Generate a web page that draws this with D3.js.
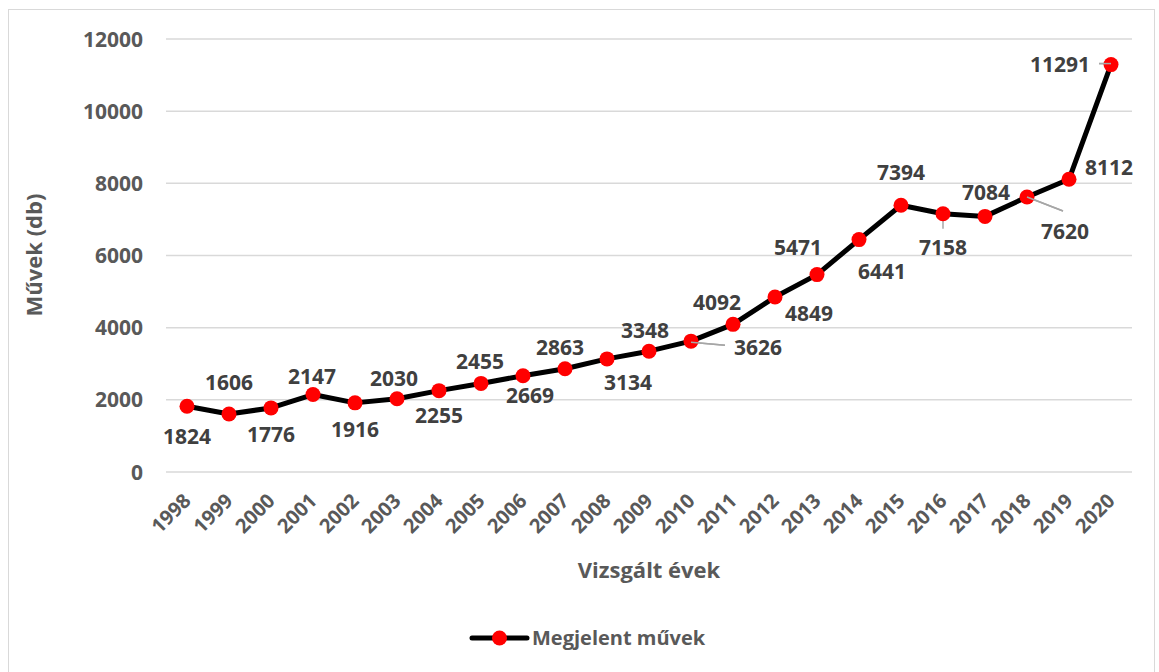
<!DOCTYPE html>
<html><head><meta charset="utf-8">
<script src="https://cdn.jsdelivr.net/npm/d3@7"></script>
<style>body{margin:0;background:#fff;font-family:"Open Sans",Lato,sans-serif;}</style>
</head><body><svg id="c" width="1159" height="672"></svg>
<script>
const years = ["1998","1999","2000","2001","2002","2003","2004","2005","2006","2007","2008","2009","2010","2011","2012","2013","2014","2015","2016","2017","2018","2019","2020"];
const values = [1824,1606,1776,2147,1916,2030,2255,2455,2669,2863,3134,3348,3626,4092,4849,5471,6441,7394,7158,7084,7620,8112,11291];
const yTicks = [0,2000,4000,6000,8000,10000,12000];
const seriesName = "Megjelent művek";
// label placement offsets (dx, dy) of label centre relative to point
const labelPos = [[0,30],[0,-32],[0,27],[-1,-18],[0,27],[-3,-20],[0,25],[-1,-22],[7,20],[-5,-21],[21,24],[-4,-21],[67,6],[-16,-22],[34,16],[-19,-27],[23,32],[0,-33],[0,34],[1,-24],[38,34],[40,-12],[-51,0]];
const leaders = {12:[[0,1],[34,4]],18:[[0,0],[0,15]],20:[[0,0],[36,14]],22:[[-12,-1],[0,-1]]};

const FONT = '"Open Sans",Lato,sans-serif';
const svg = d3.select("#c").style("font-family",FONT);
svg.append("rect").attr("x",8.5).attr("y",9.5).attr("width",1146).attr("height",670).attr("fill","#fff").attr("stroke","#d9d9d9");

const x = d3.scalePoint().domain(years).range([166,1132]).padding(0.5);
const y = d3.scaleLinear().domain([0,12000]).range([472,39]);

const g = svg.append("g");
g.selectAll("line.grid").data(yTicks).join("line")
  .attr("x1",166).attr("x2",1132).attr("y1",d=>y(d)).attr("y2",d=>y(d))
  .attr("stroke","#d9d9d9").attr("stroke-width",1.5);

g.selectAll("text.yt").data(yTicks).join("text")
  .attr("x",143).attr("y",d=>y(d)).attr("dy","0.36em").attr("text-anchor","end")
  .attr("font-size",21).attr("font-weight","bold").attr("fill","#595959").text(d=>d);

g.selectAll("text.xt").data(years).join("text")
  .attr("transform",d=>`translate(${x(d)},497) rotate(-45)`)
  .attr("text-anchor","end").attr("dy","0.36em")
  .attr("font-size",20).attr("font-weight","bold").attr("fill","#595959").text(d=>d);

svg.append("text").attr("transform","translate(34,255) rotate(-90)").attr("text-anchor","middle").attr("dy","0.36em")
  .attr("font-size",22).attr("font-weight","bold").attr("fill","#595959").text("Művek (db)");
svg.append("text").attr("x",649).attr("y",570).attr("dy","0.36em").attr("text-anchor","middle")
  .attr("font-size",22).attr("font-weight","bold").attr("fill","#595959").text("Vizsgált évek");

const line = d3.line().x((d,i)=>x(years[i])).y(d=>y(d));
g.append("path").datum(values).attr("d",line).attr("fill","none").attr("stroke","#000").attr("stroke-width",5).attr("stroke-linejoin","round");

Object.entries(leaders).forEach(([i,pts])=>{
  const px=x(years[i]), py=y(values[i]);
  g.append("line").attr("x1",px+pts[0][0]).attr("y1",py+pts[0][1]).attr("x2",px+pts[1][0]).attr("y2",py+pts[1][1])
   .attr("stroke","#a6a6a6").attr("stroke-width",1.5);
});

g.selectAll("circle").data(values).join("circle")
  .attr("cx",(d,i)=>x(years[i])).attr("cy",d=>y(d)).attr("r",7.5).attr("fill","#ff0000");

// leader ends that sit over markers (2010, 2018, 2020)
[12,20,22].forEach(i=>{
  const pts=leaders[i], px=x(years[i]), py=y(values[i]);
  g.append("line").attr("x1",px+pts[0][0]).attr("y1",py+pts[0][1]).attr("x2",px+pts[1][0]).attr("y2",py+pts[1][1])
   .attr("stroke","#a6a6a6").attr("stroke-width",1.5);
});

g.selectAll("text.lab").data(values).join("text")
  .attr("x",(d,i)=>x(years[i])+labelPos[i][0]).attr("y",(d,i)=>y(d)+labelPos[i][1])
  .attr("dy","0.36em").attr("text-anchor","middle")
  .attr("font-size",21).attr("font-weight","bold").attr("fill","#404040").text(d=>d);

const lg = svg.append("g").attr("transform","translate(472,638)");
lg.append("line").attr("x1",0).attr("x2",55).attr("y1",0).attr("y2",0).attr("stroke","#000").attr("stroke-width",5).attr("stroke-linecap","round");
lg.append("circle").attr("cx",27.5).attr("cy",0).attr("r",7.5).attr("fill","#ff0000");
lg.append("text").attr("x",60).attr("y",0).attr("dy","0.36em").attr("font-size",20).attr("font-weight","bold").attr("fill","#595959").text(seriesName);
</script></body></html>
